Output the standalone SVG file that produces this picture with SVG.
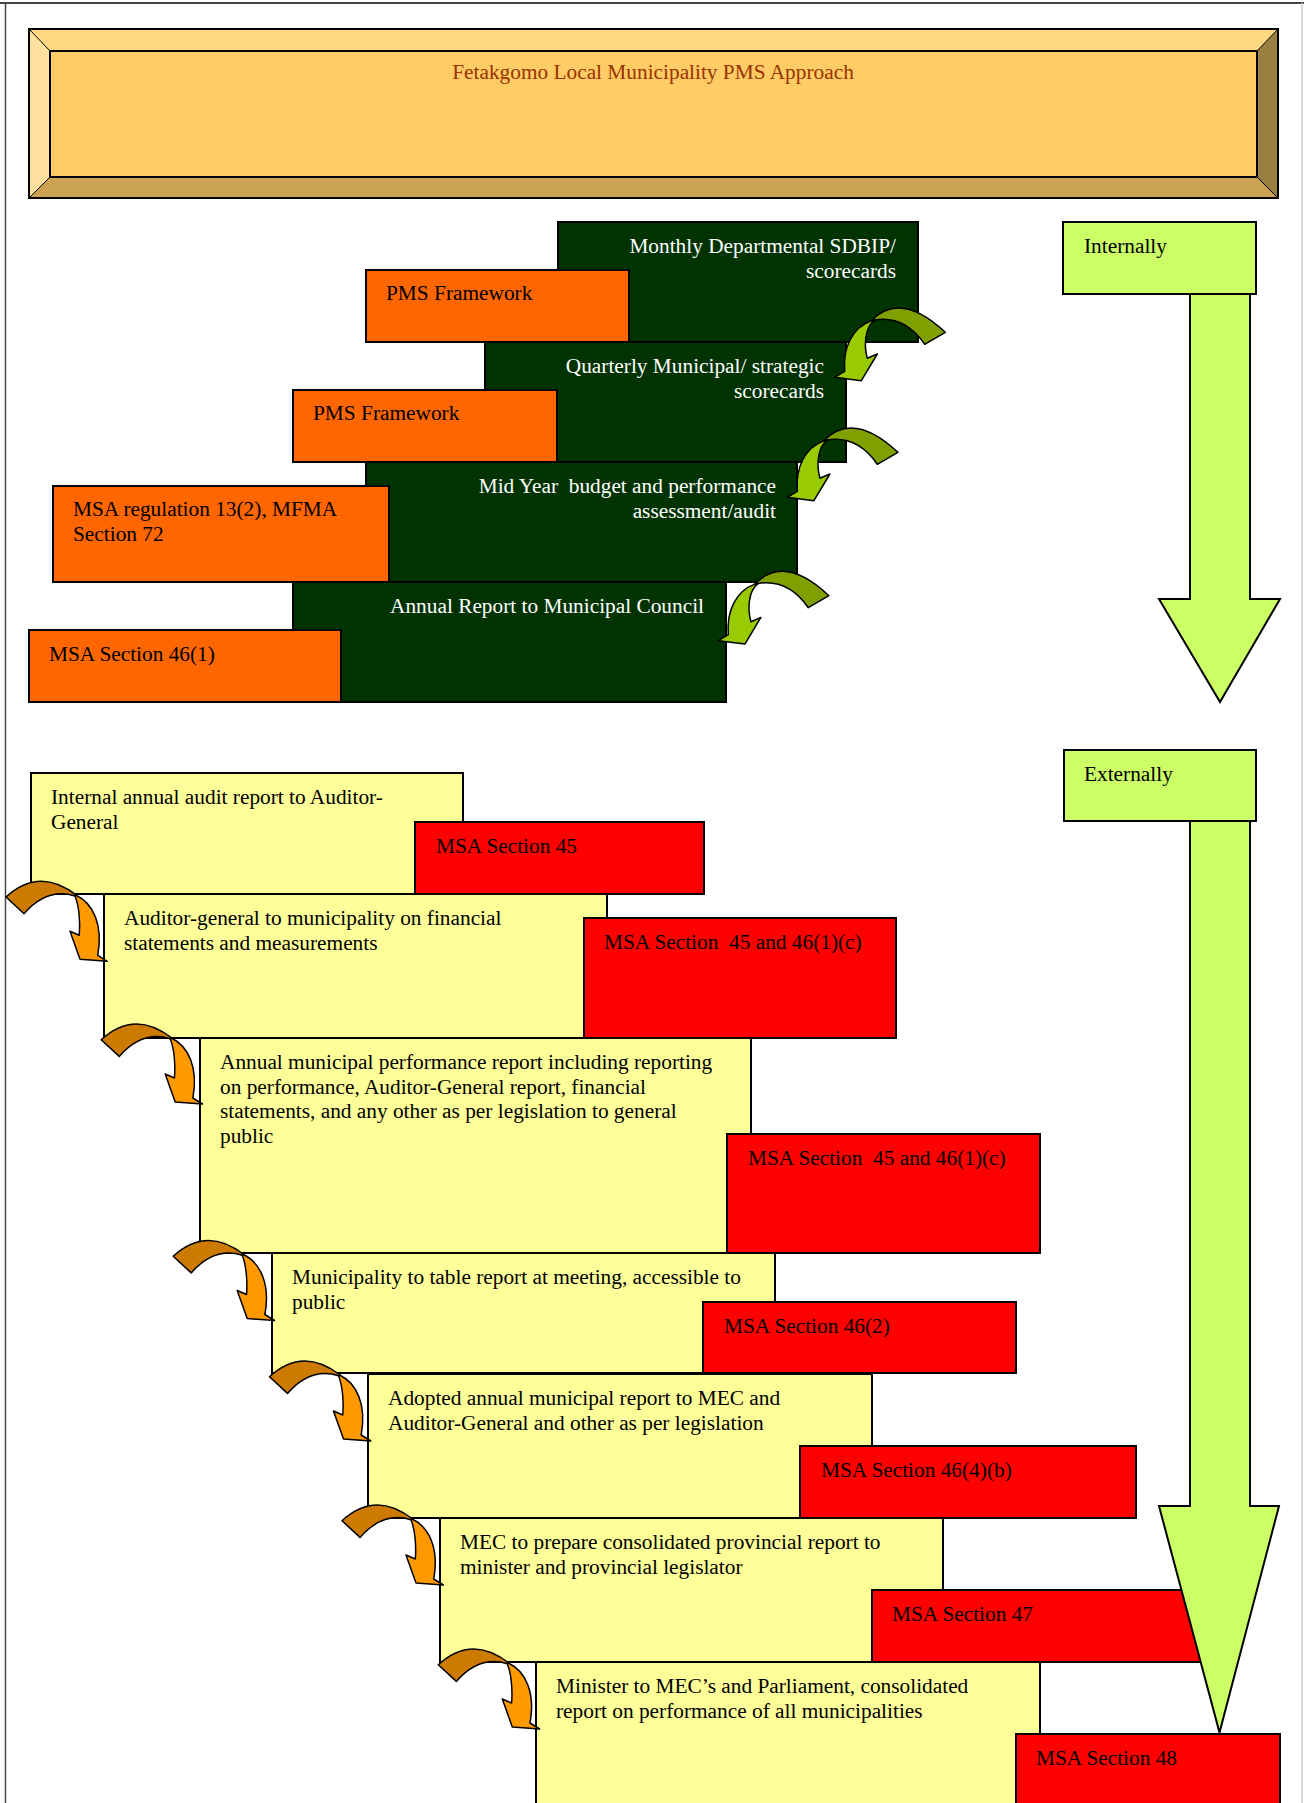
<svg xmlns="http://www.w3.org/2000/svg" xmlns:xlink="http://www.w3.org/1999/xlink" width="1304" height="1803" viewBox="0 0 1304 1803">
<style>
text{font-family:"Liberation Serif","Times New Roman",serif;font-size:21.33px;white-space:pre;fill:#000}
.w{fill:#fff}
.e{text-anchor:end}
.box{stroke:#000;stroke-width:2}
.dg{fill:#003300}
.og{fill:#FF6600}
.yl{fill:#FFFF99}
.rd{fill:#FF0000}
.lm{fill:#CCFF66;stroke:#000;stroke-width:2}
.gd{fill:#80A000;stroke:#000;stroke-width:1.5;stroke-linejoin:round}
.gl{fill:#99CC00;stroke:#000;stroke-width:1.5;stroke-linejoin:round}
.od{fill:#CC7A00;stroke:#000;stroke-width:1.5;stroke-linejoin:round}
.ol{fill:#FF9900;stroke:#000;stroke-width:1.5;stroke-linejoin:round}
</style>
<defs>
<g id="gArrow">
<path class="gd" d="M36.6,-56.6 Q66,-87 110.6,-45 L90,-33 Q70,-62 40,-57.3 Z"/>
<path class="gl" d="M36.6,-56.6 C18,-50 8,-30 10,-6 L0,0 L26.6,3.4 L42.6,-23.3 L32.6,-19 C29,-32 30,-50 40,-57.3 Z"/>
</g>
<g id="oArrow">
<path class="od" d="M-101.3,-64.3 Q-68,-95 -30.6,-66 L-32.3,-65.3 Q-60,-74 -83.3,-47.6 Z"/>
<path class="ol" d="M-31.3,-66 C-14,-58 -4,-36 -9.6,-6 L0,0 L-27.3,-2 L-37.3,-30 L-28,-26 C-27,-38 -28,-55 -32.3,-65.3 Z"/>
</g>
</defs>
<rect width="1304" height="1803" fill="#fff"/>
<g id="page-border" fill="none">
<line x1="0" y1="3" x2="1304" y2="3" stroke="#444" stroke-width="2"/>
<line x1="5.5" y1="3" x2="5.5" y2="1803" stroke="#444" stroke-width="1.5"/>
<line x1="1302" y1="3" x2="1302" y2="1803" stroke="#ccc" stroke-width="1.5"/>
</g>
<g id="title">
<polygon points="29,29 1278,29 1257,51 50,51" fill="#FFD782"/>
<polygon points="29,29 50,51 50,177 29,198" fill="#FFE09E"/>
<polygon points="1278,29 1278,198 1257,177 1257,51" fill="#997F40"/>
<polygon points="29,198 1278,198 1257,177 50,177" fill="#CCA352"/>
<rect x="50" y="51" width="1207" height="126" fill="#FFCC66" stroke="#000" stroke-width="2"/>
<path d="M29,29 L50,51 M1278,29 L1257,51 M29,198 L50,177 M1278,198 L1257,177" stroke="#000" stroke-width="1"/>
<rect x="29" y="29" width="1249" height="169" fill="none" stroke="#000" stroke-width="2"/>
<text x="653" y="79" text-anchor="middle" style="fill:#993300">Fetakgomo Local Municipality PMS Approach</text>
</g>
<g id="monthly"><rect class="box dg" x="558" y="222" width="360" height="120"/>
<text class="w e" x="896" y="253">Monthly Departmental SDBIP/</text><text class="w e" x="896" y="277.5">scorecards</text></g>
<g id="pms1"><rect class="box og" x="366" y="270" width="263" height="72"/><text x="386" y="300">PMS Framework</text></g>
<g id="quarterly"><rect class="box dg" x="485" y="342" width="361" height="120"/>
<text class="w e" x="824" y="373">Quarterly Municipal/ strategic</text><text class="w e" x="824" y="397.5">scorecards</text></g>
<g id="pms2"><rect class="box og" x="293" y="390" width="264" height="72"/><text x="313" y="420">PMS Framework</text></g>
<g id="midyear"><rect class="box dg" x="366" y="462" width="431" height="120"/>
<text class="w e" x="776" y="493">Mid Year  budget and performance</text><text class="w e" x="776" y="517.5">assessment/audit</text></g>
<g id="msa-reg"><rect class="box og" x="53" y="486" width="336" height="96"/>
<text x="73" y="516">MSA regulation 13(2), MFMA</text><text x="73" y="540.5">Section 72</text></g>
<g id="annual-council"><rect class="box dg" x="293" y="582" width="433" height="120"/>
<text class="w e" x="704" y="613">Annual Report to Municipal Council</text></g>
<g id="msa-46-1"><rect class="box og" x="29" y="630" width="312" height="72"/><text x="49" y="661">MSA Section 46(1)</text></g>
<g id="internally"><rect class="lm" x="1063" y="222" width="193" height="72"/><text x="1084" y="253">Internally</text></g>
<g id="externally"><rect class="lm" x="1064" y="750" width="192" height="71"/><text x="1084" y="781">Externally</text></g>
<g id="yellow1"><rect class="box yl" x="31" y="773" width="432" height="121"/>
<text x="51" y="804">Internal annual audit report to Auditor-</text><text x="51" y="829">General</text></g>
<g id="red1"><rect class="box rd" x="415" y="822" width="289" height="72"/><text x="436" y="853">MSA Section 45</text></g>
<g id="yellow2"><rect class="box yl" x="104" y="894" width="503" height="144"/>
<text x="124" y="925">Auditor-general to municipality on financial</text><text x="124" y="950">statements and measurements</text></g>
<g id="red2"><rect class="box rd" x="584" y="918" width="312" height="120"/><text x="604" y="949">MSA Section  45 and 46(1)(c)</text></g>
<g id="yellow3"><rect class="box yl" x="200" y="1038" width="551" height="215"/>
<text x="220" y="1069">Annual municipal performance report including reporting</text>
<text x="220" y="1093.5">on performance, Auditor-General report, financial</text>
<text x="220" y="1118">statements, and any other as per legislation to general</text>
<text x="220" y="1142.5">public</text></g>
<g id="red3"><rect class="box rd" x="727" y="1134" width="313" height="119"/><text x="748" y="1165">MSA Section  45 and 46(1)(c)</text></g>
<g id="yellow4"><rect class="box yl" x="272" y="1253" width="503" height="120"/>
<text x="292" y="1284">Municipality to table report at meeting, accessible to</text><text x="292" y="1309">public</text></g>
<g id="red4"><rect class="box rd" x="703" y="1302" width="313" height="71"/><text x="724" y="1333">MSA Section 46(2)</text></g>
<g id="yellow5"><rect class="box yl" x="368" y="1374" width="504" height="144"/>
<text x="388" y="1405">Adopted annual municipal report to MEC and</text><text x="388" y="1430">Auditor-General and other as per legislation</text></g>
<g id="red5"><rect class="box rd" x="800" y="1446" width="336" height="72"/><text x="821" y="1477">MSA Section 46(4)(b)</text></g>
<g id="yellow6"><rect class="box yl" x="440" y="1518" width="503" height="144"/>
<text x="460" y="1549">MEC to prepare consolidated provincial report to</text><text x="460" y="1574">minister and provincial legislator</text></g>
<g id="red6"><rect class="box rd" x="872" y="1590" width="337" height="72"/><text x="892" y="1621">MSA Section 47</text></g>
<g id="yellow7"><rect class="box yl" x="536" y="1662" width="504" height="150"/>
<text x="556" y="1693">Minister to MEC’s and Parliament, consolidated</text><text x="556" y="1718">report on performance of all municipalities</text></g>
<g id="red7"><rect class="box rd" x="1016" y="1734" width="264" height="80"/><text x="1036" y="1765">MSA Section 48</text></g>
<g id="connectors">
<use xlink:href="#gArrow" transform="translate(834.7,377.3)"/>
<use xlink:href="#gArrow" transform="translate(787.3,497.3)"/>
<use xlink:href="#gArrow" transform="translate(718.3,640.7)"/>
<use xlink:href="#oArrow" transform="translate(107.3,961.3)"/>
<use xlink:href="#oArrow" transform="translate(202.5,1104)"/>
<use xlink:href="#oArrow" transform="translate(274.5,1320.5)"/>
<use xlink:href="#oArrow" transform="translate(370.8,1441)"/>
<use xlink:href="#oArrow" transform="translate(443.3,1585)"/>
<use xlink:href="#oArrow" transform="translate(539.6,1729)"/>
<polygon class="lm" points="1190,294 1250,294 1250,599 1280,599 1220,702 1159,599 1190,599"/>
<polygon class="lm" points="1190,821 1250,821 1250,1506 1279,1506 1219.5,1732.5 1159,1506 1190,1506"/>
</g>
</svg>
